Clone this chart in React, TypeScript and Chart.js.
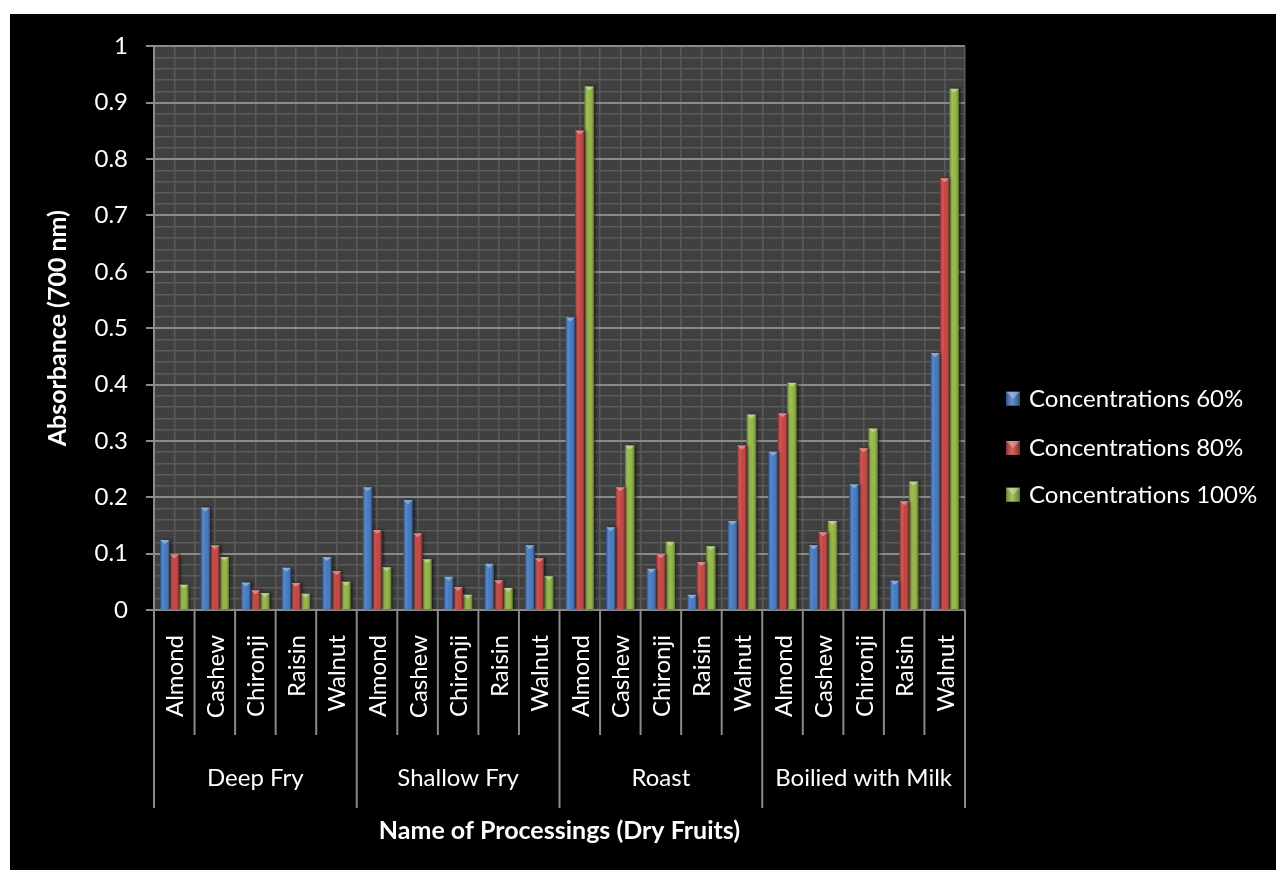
import React, { useEffect, useRef } from "react";
import { Chart, registerables } from "chart.js";

Chart.register(...registerables);

const fruits = ["Almond", "Cashew", "Chironji", "Raisin", "Walnut"];
const processings = ["Deep Fry", "Shallow Fry", "Roast", "Boilied with Milk"];
const seriesNames = ["Concentrations 60%", "Concentrations 80%", "Concentrations 100%"];

const conc60 = [0.124, 0.182, 0.049, 0.075, 0.094, 0.218, 0.195, 0.059, 0.082, 0.115, 0.519, 0.147, 0.073, 0.027, 0.158, 0.281, 0.115, 0.223, 0.052, 0.456];
const conc80 = [0.099, 0.115, 0.035, 0.048, 0.069, 0.142, 0.136, 0.041, 0.053, 0.092, 0.851, 0.218, 0.099, 0.085, 0.292, 0.349, 0.138, 0.287, 0.193, 0.766];
const conc100 = [0.045, 0.094, 0.030, 0.029, 0.050, 0.076, 0.090, 0.027, 0.039, 0.060, 0.929, 0.292, 0.121, 0.113, 0.347, 0.403, 0.158, 0.322, 0.228, 0.925];

const yTickValues = [0, 0.1, 0.2, 0.3, 0.4, 0.5, 0.6, 0.7, 0.8, 0.9, 1];

const colors = ["#3A71BC", "#C23A36", "#8DB33B"];

const labels: string[] = [];
processings.forEach(() => fruits.forEach((f) => labels.push(f)));

const FONT = "Lato";
const AXIS_GREY = "#8a8a8a";
const MINOR = "#5a5a5a";

const isMajor = (v: number) => yTickValues.some((t) => Math.abs(t - v) < 1e-6);

const decor = {
  id: "decor",
  beforeDraw(chart: any) {
    const { ctx, chartArea: a } = chart;
    ctx.save();
    ctx.fillStyle = "#000";
    ctx.fillRect(0, 0, chart.width, chart.height);
    ctx.fillStyle = "#404040";
    ctx.fillRect(a.left, a.top, a.right - a.left, a.bottom - a.top);
    ctx.restore();
  },
  beforeDatasetsDraw(chart: any) {
    const ctx = chart.ctx;
    ctx.save();
    ctx.shadowColor = "rgba(0,0,0,0.55)";
    ctx.shadowOffsetX = 2;
    ctx.shadowOffsetY = 0;
    ctx.shadowBlur = 3;
  },
  afterDatasetsDraw(chart: any) {
    const ctx = chart.ctx;
    ctx.restore();
    ctx.save();
    chart.data.datasets.forEach((ds: any, di: number) => {
      const meta = chart.getDatasetMeta(di);
      meta.data.forEach((el: any) => {
        const { x, y, base, width } = el.getProps(["x", "y", "base", "width"], true);
        const left = x - width / 2;
        const g = ctx.createLinearGradient(left, 0, left + width, 0);
        g.addColorStop(0, "rgba(0,0,0,0.30)");
        g.addColorStop(0.3, "rgba(255,255,255,0.16)");
        g.addColorStop(0.55, "rgba(255,255,255,0.05)");
        g.addColorStop(1, "rgba(0,0,0,0.38)");
        ctx.fillStyle = g;
        ctx.fillRect(left, y, width, base - y);
        ctx.fillStyle = "rgba(255,255,255,0.35)";
        ctx.beginPath();
        ctx.moveTo(left, y);
        ctx.lineTo(left + width, y);
        ctx.lineTo(x, y + 4);
        ctx.closePath();
        ctx.fill();
      });
    });
    ctx.restore();
  },
  afterDraw(chart: any) {
    const { ctx, chartArea: a } = chart;
    const xs = chart.scales.x;
    const n = labels.length;
    const half = (xs.getPixelForValue(1) - xs.getPixelForValue(0)) / 2;
    ctx.save();
    ctx.strokeStyle = AXIS_GREY;
    ctx.lineWidth = 2;
    for (let i = 0; i <= n; i++) {
      const px = i < n ? xs.getPixelForValue(i) - half : xs.getPixelForValue(n - 1) + half;
      const isGroup = i % fruits.length === 0;
      ctx.beginPath();
      ctx.moveTo(px, a.bottom);
      ctx.lineTo(px, isGroup ? a.bottom + 198 : a.bottom + 125);
      ctx.stroke();
    }
    ctx.fillStyle = "#fff";
    ctx.font = `24px ${FONT}`;
    ctx.textAlign = "right";
    ctx.textBaseline = "alphabetic";
    labels.forEach((l, i) => {
      const px = xs.getPixelForValue(i);
      ctx.save();
      ctx.translate(px + 9, a.bottom + 25);
      ctx.rotate(-Math.PI / 2);
      ctx.fillText(l, 0, 0);
      ctx.restore();
    });
    ctx.textAlign = "center";
    processings.forEach((p, gi) => {
      const x0 = xs.getPixelForValue(gi * fruits.length) - half;
      const x1 = xs.getPixelForValue(gi * fruits.length + fruits.length - 1) + half;
      ctx.fillText(p, (x0 + x1) / 2, a.bottom + 176);
    });
    ctx.font = `bold 25px ${FONT}`;
    ctx.fillText("Name of Processings (Dry Fruits)", (a.left + a.right) / 2, a.bottom + 229);
    ctx.save();
    ctx.translate(56, (a.top + a.bottom) / 2);
    ctx.rotate(-Math.PI / 2);
    ctx.fillText("Absorbance (700 nm)", 0, 0);
    ctx.restore();
    ctx.font = `24px ${FONT}`;
    ctx.textAlign = "left";
    const baselines = [392.7, 442, 488.7];
    seriesNames.forEach((s, i) => {
      const by = baselines[i];
      const bx = 996;
      const size = 14;
      const top = by - 15;
      ctx.fillStyle = colors[i];
      ctx.fillRect(bx, top, size, size);
      const g = ctx.createLinearGradient(bx, 0, bx + size, 0);
      g.addColorStop(0, "rgba(0,0,0,0.3)");
      g.addColorStop(0.4, "rgba(255,255,255,0.2)");
      g.addColorStop(1, "rgba(0,0,0,0.35)");
      ctx.fillStyle = g;
      ctx.fillRect(bx, top, size, size);
      ctx.fillStyle = "rgba(255,255,255,0.3)";
      ctx.beginPath();
      ctx.moveTo(bx, top);
      ctx.lineTo(bx + size, top);
      ctx.lineTo(bx + size / 2, top + size / 2);
      ctx.closePath();
      ctx.fill();
      ctx.fillStyle = "#fff";
      ctx.fillText(s, 1019, by);
    });
    ctx.restore();
  },
};

export default function App() {
  const ref = useRef<HTMLCanvasElement>(null);
  useEffect(() => {
    if (!ref.current) return;
    const chart = new Chart(ref.current, {
      type: "bar",
      data: {
        labels,
        datasets: [conc60, conc80, conc100].map((d, i) => ({
          label: seriesNames[i],
          data: d,
          backgroundColor: colors[i],
          borderWidth: 0,
          categoryPercentage: 0.7,
          barPercentage: 1.0,
        })),
      },
      options: {
        responsive: false,
        animation: false,
        layout: { padding: { left: 0, top: 30, right: 311, bottom: 260 } },
        plugins: { legend: { display: false }, tooltip: { enabled: false } },
        scales: {
          x: {
            type: "category",
            offset: true,
            ticks: { display: false },
            grid: { offset: true, color: MINOR, lineWidth: 1.5, drawTicks: false },
            border: { display: true, color: AXIS_GREY, width: 2 },
            afterFit: (s: any) => {
              s.height = 0;
            },
          },
          x2: {
            type: "category",
            position: "bottom",
            offset: true,
            ticks: { display: false },
            grid: { offset: false, color: MINOR, lineWidth: 1.5, drawTicks: false },
            border: { display: false },
            afterFit: (s: any) => {
              s.height = 0;
            },
          },
          y: {
            type: "linear",
            min: 0,
            max: 1,
            ticks: {
              stepSize: 0.02,
              autoSkip: false,
              color: "#fff",
              padding: 18,
              font: { family: FONT, size: 24 },
              callback: (v: any) => {
                const t = yTickValues.find((tv) => Math.abs(tv - Number(v)) < 1e-6);
                return t === undefined ? "" : String(t);
              },
            },
            grid: {
              color: (c: any) => (c.tick && isMajor(c.tick.value) ? AXIS_GREY : MINOR),
              lineWidth: (c: any) => (c.tick && isMajor(c.tick.value) ? 2 : 1.5),
              tickColor: (c: any) => (c.tick && isMajor(c.tick.value) ? AXIS_GREY : "rgba(0,0,0,0)"),
              tickLength: 8,
            },
            border: { display: true, color: AXIS_GREY, width: 2 },
            afterFit: (s: any) => {
              s.width = 144;
            },
          },
        },
      },
      plugins: [decor],
    } as any);
    return () => chart.destroy();
  }, []);
  return (
    <div style={{ position: "fixed", left: 10, top: 14, width: 1266, height: 856, background: "#000" }}>
      <canvas ref={ref} width={1266} height={856} style={{ display: "block" }} />
    </div>
  );
}
